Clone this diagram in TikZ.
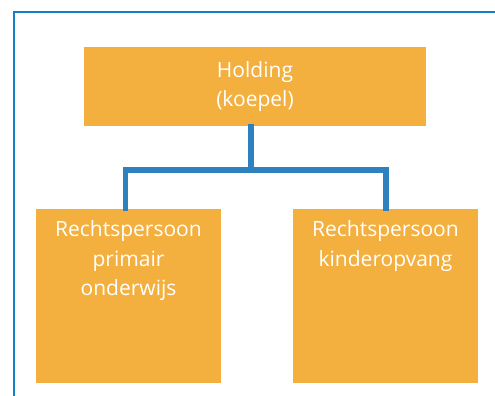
\documentclass[tikz,border=0pt]{standalone}
\usepackage{fontspec}
\setmainfont{Open Sans}
\definecolor{boxorange}{HTML}{F4B03F}
\definecolor{linkblue}{HTML}{2E80BF}
\definecolor{frameblue}{HTML}{127FC9}
\begin{document}
\begin{tikzpicture}[x=1pt,y=-1pt,
  orgbox/.style={fill=boxorange, draw=none, inner sep=0pt},
  boxtext/.style={text=white, font=\fontsize{21}{29.5}\selectfont, align=center},
  link/.style={draw=linkblue, line width=5.3pt}]
\useasboundingbox (0,0) rectangle (495,396);
% open frame: top and left edges only
\draw[frameblue, line width=2pt] (13.5,396) -- (13.5,12.5) -- (495,12.5);

% boxes
\node[orgbox, boxtext, minimum width=342pt, minimum height=79pt] (hold) at (255,86.5)
  {Holding\\(koepel)};
\node[orgbox, minimum width=185pt, minimum height=174pt] (prim) at (128.5,296) {};
\node[orgbox, minimum width=185pt, minimum height=174pt] (kind) at (385.5,296) {};
\node[boxtext, anchor=north, inner sep=0pt] (primtxt) at ([yshift=-12pt]prim.north)
  {Rechtspersoon\\primair\\onderwijs};
\node[boxtext, anchor=north, inner sep=0pt] (kindtxt) at ([yshift=-12pt]kind.north)
  {Rechtspersoon\\kinderopvang};

% connectors
\coordinate (fork) at (251,170);
\draw[link] ([xshift=-4pt,yshift=2pt]hold.south) -- (fork);
\draw[link] ([xshift=-2.8pt,yshift=-2pt]prim.north) |- (fork) -| ([xshift=0.5pt,yshift=-2pt]kind.north);
\end{tikzpicture}
\end{document}
